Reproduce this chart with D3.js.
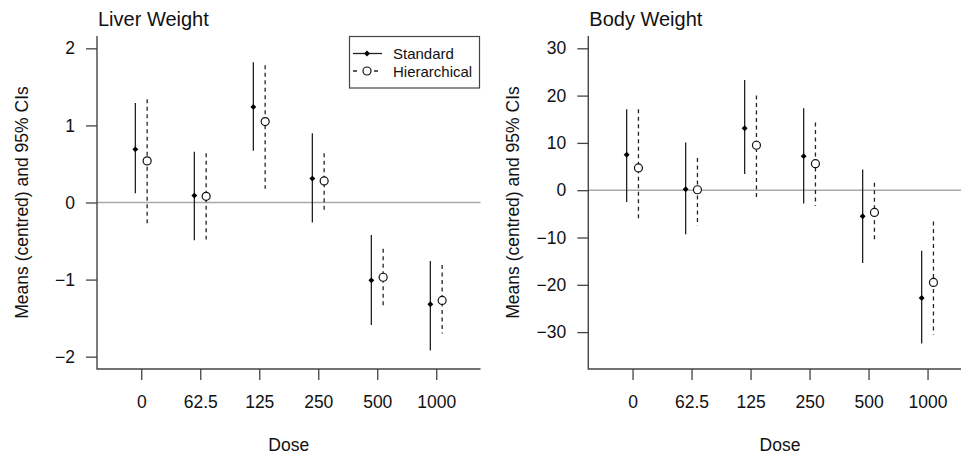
<!DOCTYPE html>
<html><head><meta charset="utf-8">
<script src="https://cdn.jsdelivr.net/npm/d3@7"></script>
<style>
body{margin:0;background:#fff;}
text{font-family:"Liberation Sans",Arial,sans-serif;fill:#111;}
</style></head>
<body><svg id="c" width="961" height="454"></svg>
<script>
const doses = ["0","62.5","125","250","500","1000"];
const liverStdMean = [0.69, 0.09, 1.24, 0.31, -1.01, -1.32];
const liverStdLo   = [0.12, -0.49, 0.67, -0.26, -1.59, -1.92];
const liverStdHi   = [1.29, 0.66, 1.82, 0.90, -0.42, -0.76];
const liverHierMean = [0.54, 0.08, 1.05, 0.28, -0.97, -1.27];
const liverHierLo   = [-0.27, -0.48, 0.18, -0.13, -1.36, -1.70];
const liverHierHi   = [1.34, 0.64, 1.78, 0.64, -0.60, -0.81];
const bodyStdMean = [7.5, 0.2, 13.1, 7.2, -5.5, -22.8];
const bodyStdLo   = [-2.5, -9.3, 3.4, -2.8, -15.4, -32.4];
const bodyStdHi   = [17.1, 10.1, 23.3, 17.3, 4.4, -12.8];
const bodyHierMean = [4.7, 0.1, 9.5, 5.6, -4.7, -19.5];
const bodyHierLo   = [-6.5, -7.5, -2.2, -3.3, -10.7, -30.5];
const bodyHierHi   = [17.1, 6.8, 20.0, 14.3, 1.6, -6.6];
const liverTicks = [-2, -1, 0, 1, 2];
const bodyTicks = [-30, -20, -10, 0, 10, 20, 30];
const legendLabels = ["Standard", "Hierarchical"];

const svg = d3.select("#c");
const axisCol = "#444";
const FS = 17.5;

function panel(o) {
  const g = svg.append("g");
  const x = d3.scaleLinear().domain([0.25, 6.75]).range([o.left, o.left + 383.5]);
  const y = d3.scaleLinear().domain(o.ydom).range([369, 36]);
  // zero line
  g.append("line").attr("x1", x(0.25)).attr("x2", x(6.75)).attr("y1", y(0)).attr("y2", y(0))
    .attr("stroke", "#a8a8a8").attr("stroke-width", 1.5);
  // y axis
  const ya = d3.axisLeft(y).tickValues(o.yticks).tickSize(11).tickPadding(11).tickFormat(d => d < 0 ? "\u2212" + Math.abs(d) : d);
  const yg = g.append("g").attr("transform", `translate(${x(0.25)},0)`).call(ya);
  // x axis
  const xa = d3.axisBottom(x).tickValues([1,2,3,4,5,6]).tickSize(11).tickPadding(16).tickFormat((d,i) => doses[i]);
  const xg = g.append("g").attr("transform", `translate(0,${y(o.ydom[0])})`).call(xa);
  [yg, xg].forEach(a => {
    a.select(".domain").remove();
    a.selectAll(".tick line").attr("stroke", axisCol).attr("stroke-width", 1.3);
    a.selectAll(".tick text").attr("font-size", FS).attr("fill", "#111").attr("font-family", '"Liberation Sans",Arial,sans-serif');
  });
  // L box
  g.append("path").attr("d", `M${x(0.25)},${y(o.ydom[1])}V${y(o.ydom[0])}H${x(6.75)}`)
    .attr("fill", "none").attr("stroke", axisCol).attr("stroke-width", 1.4);
  // error bars
  const std = doses.map((d,i) => ({p: i + 1 - 0.1, m: o.sm[i], lo: o.sl[i], hi: o.sh[i]}));
  const hier = doses.map((d,i) => ({p: i + 1 + 0.1, m: o.hm[i], lo: o.hl[i], hi: o.hh[i]}));
  g.selectAll(".sbar").data(std).enter().append("line")
    .attr("x1", d => x(d.p)).attr("x2", d => x(d.p)).attr("y1", d => y(d.lo)).attr("y2", d => y(d.hi))
    .attr("stroke", "#222").attr("stroke-width", 1.3);
  g.selectAll(".hbar").data(hier).enter().append("line")
    .attr("x1", d => x(d.p)).attr("x2", d => x(d.p)).attr("y1", d => y(d.hi)).attr("y2", d => y(d.lo))
    .attr("stroke", "#222").attr("stroke-width", 1.3).attr("stroke-dasharray", "4,3.5");
  g.selectAll(".spt").data(std).enter().append("path")
    .attr("d", d3.symbol(d3.symbolDiamond2, 22)())
    .attr("transform", d => `translate(${x(d.p)},${y(d.m)})`).attr("fill", "#000");
  g.selectAll(".hpt").data(hier).enter().append("circle")
    .attr("cx", d => x(d.p)).attr("cy", d => y(d.m)).attr("r", 4)
    .attr("fill", "#fff").attr("stroke", "#111").attr("stroke-width", 1.2);
  // titles
  g.append("text").attr("x", x(0.25) + 1).attr("y", 26).attr("font-size", 20).text(o.title);
  g.append("text").attr("x", (x(0.25) + x(6.75)) / 2).attr("y", 451).attr("text-anchor", "middle").attr("font-size", FS).text("Dose");
  g.append("text").attr("transform", `translate(${o.ylabX},${(36 + 369) / 2}) rotate(-90)`)
    .attr("text-anchor", "middle").attr("font-size", FS).text("Means (centred) and 95% CIs");
  return {g, x, y};
}

panel({left: 97, ydom: [-2.16, 2.16], yticks: liverTicks, title: "Liver Weight", ylabX: 27.5,
  sm: liverStdMean, sl: liverStdLo, sh: liverStdHi, hm: liverHierMean, hl: liverHierLo, hh: liverHierHi});
panel({left: 588.3, ydom: [-37.8, 32.6], yticks: bodyTicks, title: "Body Weight", ylabX: 519,
  sm: bodyStdMean, sl: bodyStdLo, sh: bodyStdHi, hm: bodyHierMean, hl: bodyHierLo, hh: bodyHierHi});

// legend
const lg = svg.append("g");
lg.append("rect").attr("x", 349.5).attr("y", 36.5).attr("width", 130).attr("height", 51.5)
  .attr("fill", "#fff").attr("stroke", "#444").attr("stroke-width", 1.2);
const rows = [53.5, 71];
lg.append("line").attr("x1", 353).attr("x2", 382).attr("y1", rows[0]).attr("y2", rows[0]).attr("stroke", "#222").attr("stroke-width", 1.3);
lg.append("path").attr("d", d3.symbol(d3.symbolDiamond2, 22)()).attr("transform", `translate(367,${rows[0]})`).attr("fill", "#000");
lg.append("line").attr("x1", 353).attr("x2", 382).attr("y1", rows[1]).attr("y2", rows[1]).attr("stroke", "#222").attr("stroke-width", 1.3).attr("stroke-dasharray", "4,6.5");
lg.append("circle").attr("cx", 367).attr("cy", rows[1]).attr("r", 4).attr("fill", "#fff").attr("stroke", "#111").attr("stroke-width", 1.2);
lg.selectAll(".lt").data(legendLabels).enter().append("text")
  .attr("x", 393).attr("y", (d,i) => rows[i] + 5.5).attr("font-size", 15).text(d => d);
</script></body></html>
